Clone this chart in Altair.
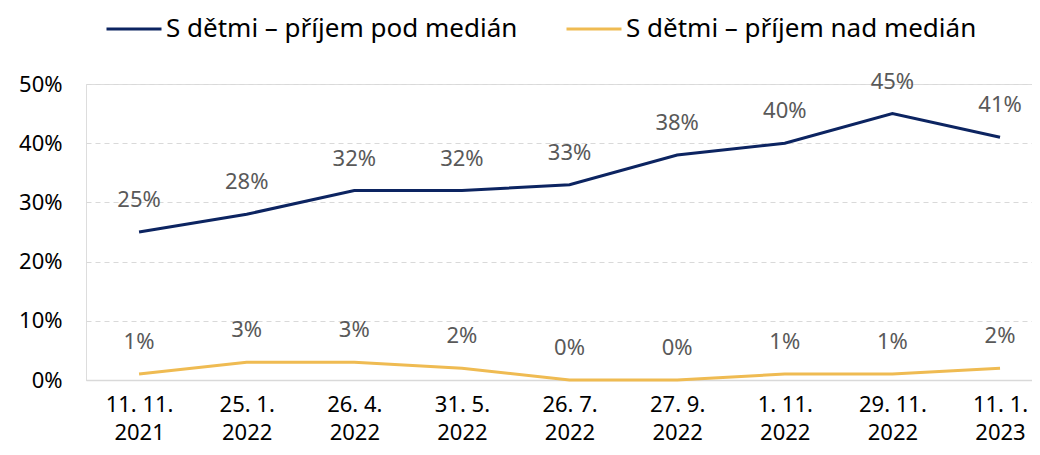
import altair as alt
import pandas as pd

dates = ["11. 11. 2021", "25. 1. 2022", "26. 4. 2022", "31. 5. 2022", "26. 7. 2022",
         "27. 9. 2022", "1. 11. 2022", "29. 11. 2022", "11. 1. 2023"]
series_names = ["S dětmi – příjem pod medián", "S dětmi – příjem nad medián"]
below_median = [0.25, 0.28, 0.32, 0.32, 0.33, 0.38, 0.40, 0.45, 0.41]
above_median = [0.01, 0.03, 0.03, 0.02, 0.00, 0.00, 0.01, 0.01, 0.02]
colors = ["#0c2461", "#efbb52"]

rows = []
for i, d in enumerate(dates):
    rows.append({"date": d, "series": series_names[0], "value": below_median[i]})
    rows.append({"date": d, "series": series_names[1], "value": above_median[i]})
df = pd.DataFrame(rows)

FONT = "Noto Sans"

x_enc = alt.X(
    "date:N",
    sort=dates,
    scale=alt.Scale(type="point", padding=0.395, align=0.624),
    axis=alt.Axis(
        title=None,
        labelAngle=0,
        labelFontSize=22,
        labelColor="#000000",
        labelFont=FONT,
        labelPadding=14,
        labelLineHeight=28,
        labelExpr="[slice(datum.value, 0, lastindexof(datum.value, ' ')), slice(datum.value, lastindexof(datum.value, ' ') + 1)]",
        ticks=False,
        domain=True,
        domainColor="#d9d9d9",
        domainWidth=1.5,
        grid=False,
    ),
)
y_enc = alt.Y(
    "value:Q",
    scale=alt.Scale(domain=[0, 0.5], nice=False),
    axis=alt.Axis(
        title=None,
        format=".0%",
        values=[0, 0.1, 0.2, 0.3, 0.4, 0.5],
        labelFontSize=22,
        labelColor="#000000",
        labelFont=FONT,
        labelPadding=24,
        ticks=False,
        domain=False,
        grid=True,
        gridColor="#d9d9d9",
        gridDash=[5, 4],
        gridWidth=1,
    ),
)
color_enc = alt.Color(
    "series:N",
    sort=series_names,
    scale=alt.Scale(domain=series_names, range=colors),
    legend=alt.Legend(
        title=None,
        orient="none",
        legendX=19,
        legendY=-84,
        direction="horizontal",
        symbolType="stroke",
        symbolSize=3025,
        symbolStrokeWidth=3,
        labelFontSize=26,
        labelFont=FONT,
        labelColor="#000000",
        labelOffset=3,
        columnPadding=42,
        labelLimit=500,
    ),
)

lines = alt.Chart(df).mark_line(strokeWidth=3).encode(x=x_enc, y=y_enc, color=color_enc)
labels = alt.Chart(df).mark_text(
    dy=-32, fontSize=22, font=FONT, color="#595959", baseline="middle"
).encode(
    x=alt.X("date:N", sort=dates),
    y="value:Q",
    text=alt.Text("value:Q", format=".0%"),
)

chart = (
    alt.layer(lines, labels)
    .properties(width=946, height=296, padding={"left": 78, "top": 76, "right": 0, "bottom": 67},
                autosize=alt.AutoSizeParams(type="none"))
    .configure_view(stroke=None)
    .configure(font=FONT)
)

chart.save("out.html", embed_options={"renderer": "svg", "actions": False})
